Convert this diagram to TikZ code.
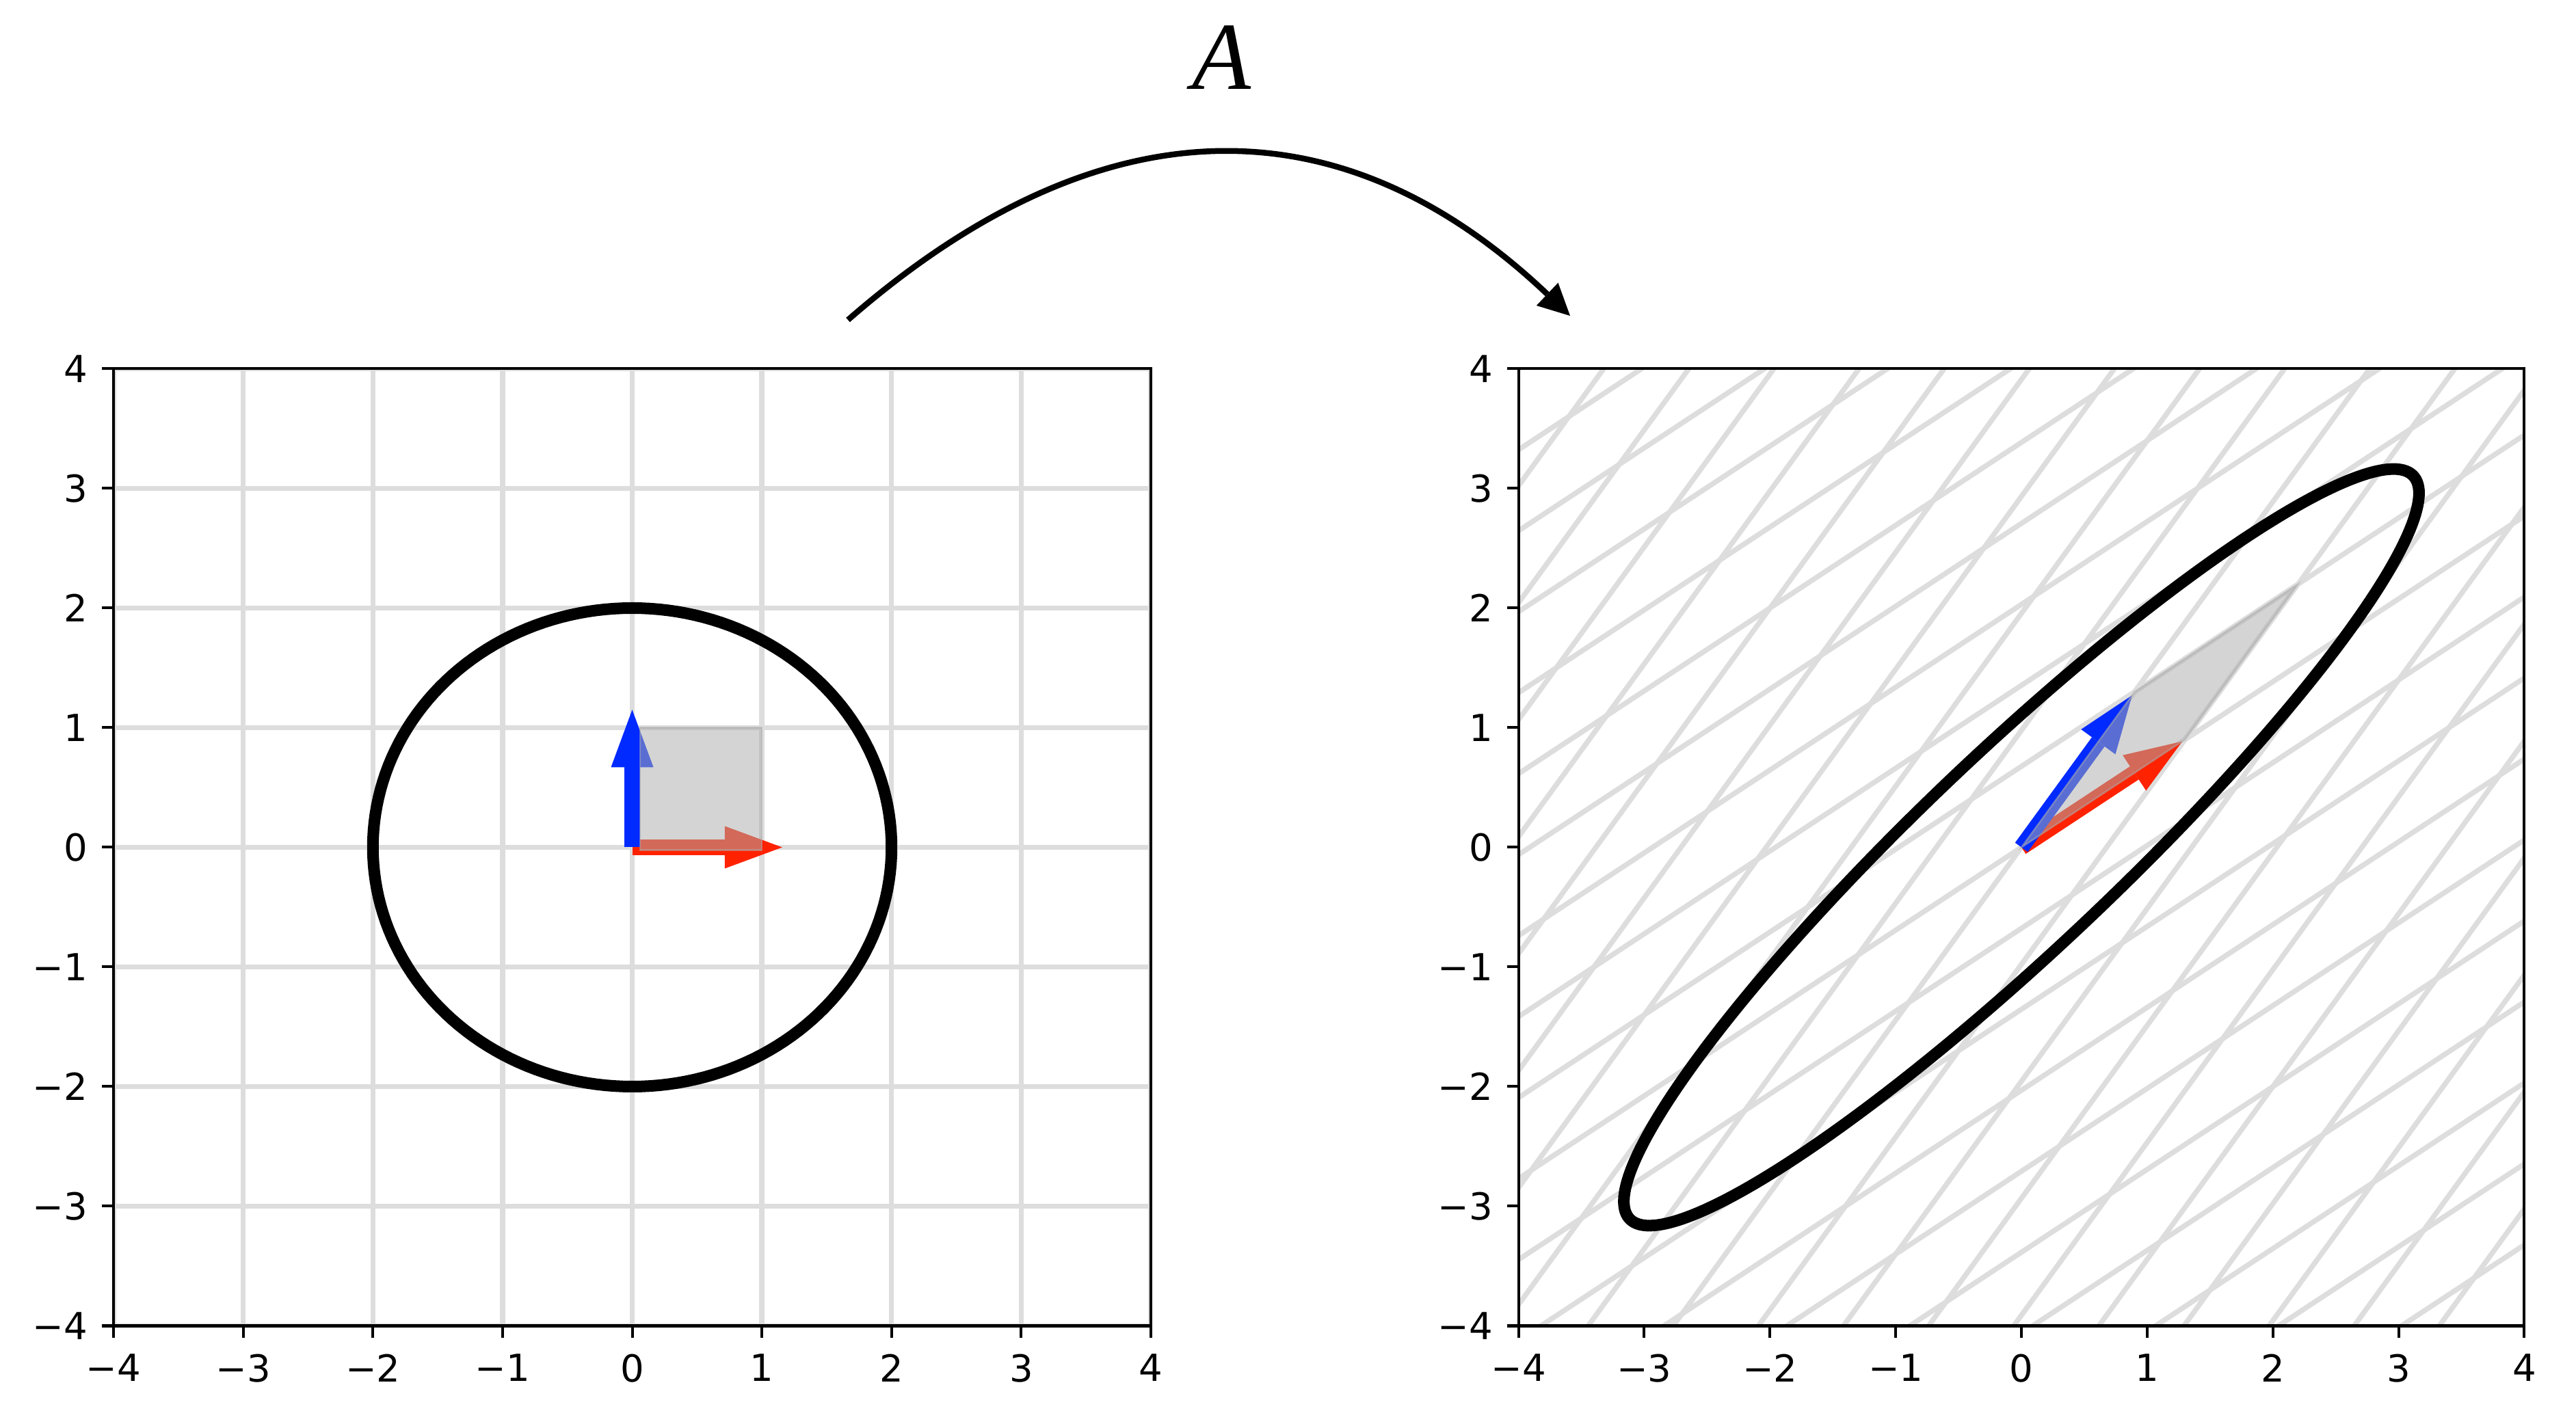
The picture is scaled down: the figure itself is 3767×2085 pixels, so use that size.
\documentclass[tikz,border=0pt]{standalone}
\usepackage{fontspec}
\setmainfont{DejaVu Sans}
\newfontfamily\mapfont{Liberation Serif}
\usetikzlibrary{arrows.meta,calc}

\definecolor{gridgray}{RGB}{221,221,221}
\definecolor{vecred}{RGB}{255,34,0}
\definecolor{vecblue}{RGB}{0,42,255}
\definecolor{areagray}{RGB}{172,172,172}

\tikzset{
  gridline/.style={gridgray, line width=0.075cm},
  spine/.style={black, line width=0.04cm},
  tickmark/.style={black, line width=0.04cm},
  ticklab/.style={inner sep=0pt, font=\fontsize{15.5}{18}\selectfont},
  conic/.style={black, line width=0.17cm, line join=round},
  vecshaft/.style={line width=0.23cm},
  area/.style={fill=areagray, draw=areagray, fill opacity=0.52, draw opacity=0.52, line width=0.025cm},
  curveline/.style={black, line width=0.085cm, -{Triangle[length=0.46cm, width=0.46cm, line width=0pt]}},
}

% frame, ticks and tick labels of one panel (data units -4..4)
\newcommand{\panelaxes}{%
  \draw[spine] (-4,-4) rectangle (4,4);
  \foreach \k/\lab in {-4/−4,-3/−3,-2/−2,-1/−1,0/0,1/1,2/2,3/3,4/4} {
    \draw[tickmark] (\k,-4) -- ++(0cm,-0.17cm);
    \draw[tickmark] (-4,\k) -- ++(-0.17cm,0cm);
    \node[ticklab, anchor=north, yshift=-0.41cm] at (\k,-4) {\lab};
    \node[ticklab, anchor=east, xshift=-0.37cm] at (-4,\k) {\lab};
  }}

% quiver-like arrow: #1 colour, #2 tail, #3 tip
\newcommand{\basisvec}[3]{%
  \coordinate (hb) at ($(#3)!0.84cm!(#2)$);
  \draw[vecshaft, #1] (#2) -- (hb);
  \fill[#1] (#3) -- ($(hb)!0.31cm!90:(#3)$) -- ($(hb)!0.31cm!-90:(#3)$) -- cycle;}

\begin{document}
\begin{tikzpicture}[x=0.01cm, y=0.01cm]
  \useasboundingbox (0,0) rectangle (3767,2085);

  % left panel: circle of radius 2 and the standard basis
  \begin{scope}[shift={(924.5,845.5)}, x=1.895cm, y=1.749cm]
    \begin{scope}
      \clip (-4,-4) rectangle (4,4);
      \foreach \k in {-4,...,4} {
        \draw[gridline] (\k,-4) -- (\k,4);
        \draw[gridline] (-4,\k) -- (4,\k);
      }
    \end{scope}
    \draw[conic] plot[domain=0:360, samples=181] ({2*cos(\x)},{2*sin(\x)}) -- cycle;
    \coordinate (o1) at (0,0);
    \coordinate (e1) at (1.157,0);
    \coordinate (e2) at (0,1.15);
    \basisvec{vecred}{o1}{e1}
    \basisvec{vecblue}{o1}{e2}
    \draw[area] (0.061,-0.024) rectangle (1,1);
    \panelaxes
  \end{scope}

  % right panel: everything mapped by A = [1.3 0.9; 0.9 1.3]
  \begin{scope}[shift={(2956,845.5)}, x=1.8375cm, y=1.749cm]
    \begin{scope}
      \clip (-4,-4) rectangle (4,4);
      \foreach \k in {-10,...,10} {
        \draw[gridline] ({1.3*\k-9},{0.9*\k-13}) -- ({1.3*\k+9},{0.9*\k+13});
        \draw[gridline] ({0.9*\k-13},{1.3*\k-9}) -- ({0.9*\k+13},{1.3*\k+9});
      }
    \end{scope}
    \draw[conic] plot[domain=0:360, samples=241] ({2.6*cos(\x)+1.8*sin(\x)},{1.8*cos(\x)+2.6*sin(\x)}) -- cycle;
    \coordinate (o2) at (0,0);
    \coordinate (ae1) at (1.28,0.886);
    \coordinate (ae2) at (0.88,1.27);
    \basisvec{vecred}{o2}{ae1}
    \basisvec{vecblue}{o2}{ae2}
    \draw[area] (0,0) -- (1.3,0.9) -- (2.2,2.2) -- (0.9,1.3) -- cycle;
    \panelaxes
  \end{scope}

  % the map A between the panels
  \coordinate (mapstart) at (1240,1617);
  \coordinate (mapend) at (2296,1623);
  \draw[curveline] (mapstart) .. controls (1609,1939) and (1961,1941) .. (mapend);
  \node[inner sep=0pt, font={\mapfont\itshape\fontsize{40}{44}\selectfont}] (mapA) at (1786,2001) {A};
\end{tikzpicture}
\end{document}
